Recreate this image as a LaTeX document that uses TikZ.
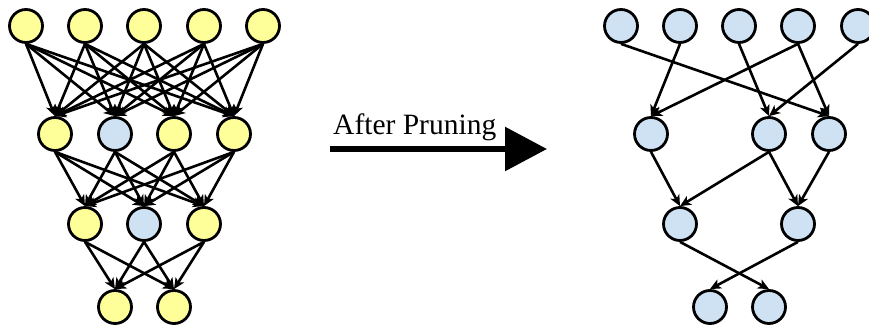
\documentclass[tikz,border=0pt]{standalone}
\usepackage{fontspec}
\setmainfont{Liberation Serif}
\usetikzlibrary{arrows.meta}
\definecolor{unityellow}{RGB}{255,255,153}
\definecolor{unitblue}{RGB}{207,226,243}

\begin{document}
\begin{tikzpicture}
  [x=1pt,y=-1pt,
   unit/.style={circle,draw,line width=2.8pt,minimum size=33pt,inner sep=0pt,fill=unityellow},
   cut/.style={unit,fill=unitblue},
   link/.style={line width=2.6pt,-{Stealth[length=11pt,width=10pt,inset=3pt]}}]
  \useasboundingbox (0,0) rectangle (869,328);

  % before pruning
  \node[unit] (a1) at (26,26) {};
  \node[unit] (a2) at (85,26) {};
  \node[unit] (a3) at (144,26) {};
  \node[unit] (a4) at (204,26) {};
  \node[unit] (a5) at (263,26) {};
  \node[unit] (b1) at (55,134) {};
  \node[cut]  (b2) at (115,134) {};
  \node[unit] (b3) at (174,134) {};
  \node[unit] (b4) at (234,134) {};
  \node[unit] (c1) at (85,224) {};
  \node[cut]  (c2) at (144,224) {};
  \node[unit] (c3) at (204,224) {};
  \node[unit] (d1) at (115,307) {};
  \node[unit] (d2) at (174,307) {};

  \foreach \i in {1,...,5}
    \foreach \j in {1,...,4}
      \draw[link] (a\i.south) -- (b\j.north);
  \foreach \i in {1,...,4}
    \foreach \j in {1,...,3}
      \draw[link] (b\i.south) -- (c\j.north);
  \foreach \i in {1,...,3}
    \foreach \j in {1,2}
      \draw[link] (c\i.south) -- (d\j.north);

  % arrow
  \coordinate (s) at (330,149);
  \coordinate (e) at (547,149);
  \draw[line width=5.8pt,-{Triangle[length=42pt,width=43pt]}] (s) -- (e);
  \node[anchor=base west,inner sep=0pt,font=\fontsize{29.5}{34}\selectfont] (lbl) at (333,135) {After Pruning};

  % after pruning
  \node[cut] (p1) at (621,26) {};
  \node[cut] (p2) at (680,26) {};
  \node[cut] (p3) at (739,26) {};
  \node[cut] (p4) at (798,26) {};
  \node[cut] (p5) at (858,26) {};
  \node[cut] (q1) at (651,134) {};
  \node[cut] (q3) at (769,134) {};
  \node[cut] (q4) at (829,134) {};
  \node[cut] (r1) at (680,224) {};
  \node[cut] (r3) at (798,224) {};
  \node[cut] (t1) at (710,307) {};
  \node[cut] (t2) at (769,307) {};

  \foreach \from/\to in {p1/q4,p2/q1,p3/q3,p4/q1,p4/q4,p5/q3,
                         q1/r1,q3/r1,q3/r3,q4/r3,r1/t2,r3/t1}
    \draw[link] (\from.south) -- (\to.north);

\end{tikzpicture}
\end{document}
